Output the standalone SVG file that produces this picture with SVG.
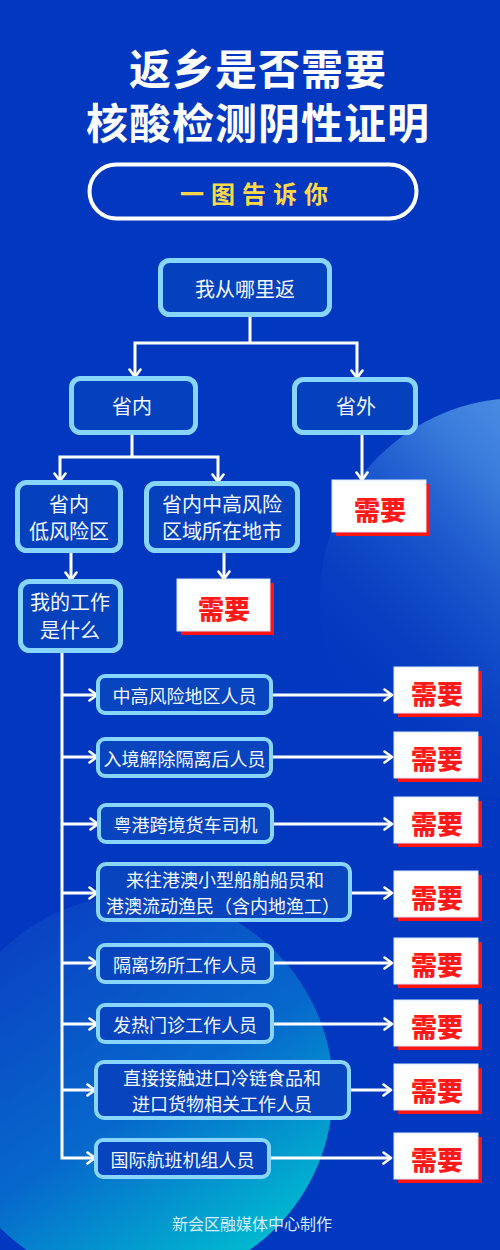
<svg xmlns="http://www.w3.org/2000/svg" width="500" height="1250" viewBox="0 0 500 1250">
<defs>
<linearGradient id="gR" x1="1" y1="0" x2="0.15" y2="0.85">
<stop offset="0" stop-color="#6FB0F0"/>
<stop offset="0.45" stop-color="#3A7CDC"/>
<stop offset="1" stop-color="#0238BF" stop-opacity="0"/>
</linearGradient>
<linearGradient id="gL" gradientUnits="userSpaceOnUse" x1="60" y1="900" x2="300" y2="1260">
<stop offset="0" stop-color="#0A42C3"/>
<stop offset="0.5" stop-color="#0768CC"/>
<stop offset="1" stop-color="#00C8D0"/>
</linearGradient>
<marker id="ah" viewBox="0 0 12 14" refX="10" refY="7" markerWidth="12" markerHeight="14" markerUnits="userSpaceOnUse" orient="auto">
<path d="M2.5,1.5 L10,7 L2.5,12.5" fill="none" stroke="#FFFFFF" stroke-width="2.6" stroke-linecap="round" stroke-linejoin="round"/>
</marker>
<style>
.t{font-family:"Noto Sans CJK SC","Noto Sans",sans-serif;}
.title{font-size:42px;font-weight:700;fill:#FFFFFF;letter-spacing:1px;}
.nb{fill:#0641BD;stroke:#88D5FF;stroke-width:5;}
.ib{fill:#0744BD;stroke:#88D5FF;stroke-width:4;}
.nt{font-size:20px;fill:#F4F9FF;text-anchor:middle;dominant-baseline:central;}
.it{font-size:18px;fill:#F4F9FF;text-anchor:middle;dominant-baseline:central;}
.bt{font-size:26px;font-weight:900;fill:#FF1A1A;text-anchor:middle;dominant-baseline:central;}
.bw{fill:#FFFFFF;stroke:#D6E3FF;stroke-width:1;}
.bs{fill:#FF1414;}
.c{fill:none;stroke:#FFFFFF;stroke-width:3;}
.ca{fill:none;stroke:#FFFFFF;stroke-width:3;marker-end:url(#ah);}
</style>
</defs>
<rect x="0" y="0" width="500" height="1250" fill="#0238BF"/>
<circle cx="520" cy="598" r="200" fill="url(#gR)"/>
<circle cx="138" cy="1090" r="195" fill="url(#gL)"/>

<g id="title">
<text class="t title" text-anchor="middle" dominant-baseline="central"><tspan x="258" y="66">返乡是否需要</tspan><tspan x="258" y="120">核酸检测阴性证明</tspan></text>
<rect x="89.5" y="164.5" width="327" height="54" rx="27" fill="none" stroke="#FFFFFF" stroke-width="4"/>
<text class="t" x="180" y="192" font-size="24" font-weight="700" fill="#FFD84A" letter-spacing="7" dominant-baseline="central">一图告诉你</text>
</g>

<g id="connectors">
<path class="c" d="M250,317 V343"/>
<path class="ca" d="M250,343 H135 V377"/>
<path class="ca" d="M250,343 H357 V378"/>
<path class="c" d="M132,435 V457"/>
<path class="ca" d="M132,457 H60 V481"/>
<path class="ca" d="M132,457 H218 V482"/>
<path class="ca" d="M362,435 V480"/>
<path class="ca" d="M71,553 V580"/>
<path class="ca" d="M224,553 V579"/>
<path class="ca" d="M62,653 V1158 H95"/>
<path class="ca" d="M62,695 H97"/>
<path class="ca" d="M62,757 H97"/>
<path class="ca" d="M62,824 H98"/>
<path class="ca" d="M62,893 H97"/>
<path class="ca" d="M62,963 H97"/>
<path class="ca" d="M62,1024 H97"/>
<path class="ca" d="M62,1090 H95"/>
<path class="ca" d="M273,695 H392"/>
<path class="ca" d="M273,757 H392"/>
<path class="ca" d="M274,824 H392"/>
<path class="ca" d="M352,893 H392"/>
<path class="ca" d="M274,963 H392"/>
<path class="ca" d="M274,1024 H392"/>
<path class="ca" d="M351,1090 H391"/>
<path class="ca" d="M271,1158 H391"/>
</g>

<g id="n-start">
<rect class="nb" x="160.5" y="260.5" width="169" height="54" rx="9"/>
<text class="t nt" x="245" y="288" font-size="21">我从哪里返</text>
</g>
<g id="n-in">
<rect class="nb" x="71.5" y="378.5" width="124" height="54" rx="9"/>
<text class="t nt" x="132" y="405.5">省内</text>
</g>
<g id="n-out">
<rect class="nb" x="294.5" y="379.5" width="121" height="53" rx="9"/>
<text class="t nt" x="356" y="405">省外</text>
</g>
<g id="n-low">
<rect class="nb" x="17.5" y="482.5" width="103" height="68" rx="9"/>
<text class="t nt"><tspan x="69" y="503">省内</tspan><tspan x="69" y="530">低风险区</tspan></text>
</g>
<g id="n-high">
<rect class="nb" x="146.5" y="483.5" width="151" height="67" rx="9"/>
<text class="t nt"><tspan x="222" y="503">省内中高风险</tspan><tspan x="222" y="530">区域所在地市</tspan></text>
</g>
<g id="n-job">
<rect class="nb" x="20.5" y="581.5" width="100" height="69" rx="9"/>
<text class="t nt"><tspan x="70" y="601">我的工作</tspan><tspan x="70" y="629">是什么</tspan></text>
</g>

<g id="b-out">
<rect class="bs" x="336" y="484" width="94" height="52"/>
<rect class="bw" x="332" y="480" width="94" height="52"/>
<text class="t bt" x="380" y="508">需要</text>
</g>
<g id="b-high">
<rect class="bs" x="181" y="583" width="93" height="52"/>
<rect class="bw" x="177" y="579" width="93" height="52"/>
<text class="t bt" x="224" y="607">需要</text>
</g>

<g id="i1">
<rect class="ib" x="98" y="676" width="173" height="37" rx="7"/>
<text class="t it" x="184.5" y="695">中高风险地区人员</text>
</g>
<g id="i2">
<rect class="ib" x="98" y="739" width="173" height="37" rx="7"/>
<text class="t it" x="184.5" y="757.5">入境解除隔离后人员</text>
</g>
<g id="i3">
<rect class="ib" x="99" y="805" width="173" height="37" rx="7"/>
<text class="t it" x="185.5" y="823.5">粤港跨境货车司机</text>
</g>
<g id="i4">
<rect class="ib" x="98" y="864" width="252" height="56" rx="8"/>
<text class="t it"><tspan x="225" y="879">来往港澳小型船舶船员和</tspan><tspan x="223" y="905">港澳流动渔民（含内地渔工）</tspan></text>
</g>
<g id="i5">
<rect class="ib" x="98" y="945" width="174" height="37" rx="7"/>
<text class="t it" x="185" y="963.5">隔离场所工作人员</text>
</g>
<g id="i6">
<rect class="ib" x="98" y="1005" width="174" height="37" rx="7"/>
<text class="t it" x="185" y="1024">发热门诊工作人员</text>
</g>
<g id="i7">
<rect class="ib" x="96" y="1062" width="253" height="56" rx="8"/>
<text class="t it"><tspan x="222" y="1077">直接接触进口冷链食品和</tspan><tspan x="222" y="1103">进口货物相关工作人员</tspan></text>
</g>
<g id="i8">
<rect class="ib" x="96" y="1140" width="173" height="37" rx="7"/>
<text class="t it" x="182.5" y="1158.5">国际航班机组人员</text>
</g>

<g id="b1"><rect class="bs" x="398" y="671" width="84" height="46"/><rect class="bw" x="394" y="667" width="84" height="46"/><text class="t bt" x="437" y="692">需要</text></g>
<g id="b2"><rect class="bs" x="398" y="736" width="84" height="46"/><rect class="bw" x="394" y="732" width="84" height="46"/><text class="t bt" x="437" y="757">需要</text></g>
<g id="b3"><rect class="bs" x="398" y="801" width="84" height="46"/><rect class="bw" x="394" y="797" width="84" height="46"/><text class="t bt" x="437" y="822">需要</text></g>
<g id="b4"><rect class="bs" x="398" y="875" width="84" height="46"/><rect class="bw" x="394" y="871" width="84" height="46"/><text class="t bt" x="437" y="896">需要</text></g>
<g id="b5"><rect class="bs" x="398" y="942" width="84" height="46"/><rect class="bw" x="394" y="938" width="84" height="46"/><text class="t bt" x="437" y="963">需要</text></g>
<g id="b6"><rect class="bs" x="398" y="1004" width="84" height="46"/><rect class="bw" x="394" y="1000" width="84" height="46"/><text class="t bt" x="437" y="1025">需要</text></g>
<g id="b7"><rect class="bs" x="398" y="1068" width="84" height="46"/><rect class="bw" x="394" y="1064" width="84" height="46"/><text class="t bt" x="437" y="1089">需要</text></g>
<g id="b8"><rect class="bs" x="398" y="1137" width="84" height="46"/><rect class="bw" x="394" y="1133" width="84" height="46"/><text class="t bt" x="437" y="1158">需要</text></g>

<text class="t" x="252" y="1223" font-size="16" fill="#D2EEFF" text-anchor="middle" dominant-baseline="central">新会区融媒体中心制作</text>
</svg>
